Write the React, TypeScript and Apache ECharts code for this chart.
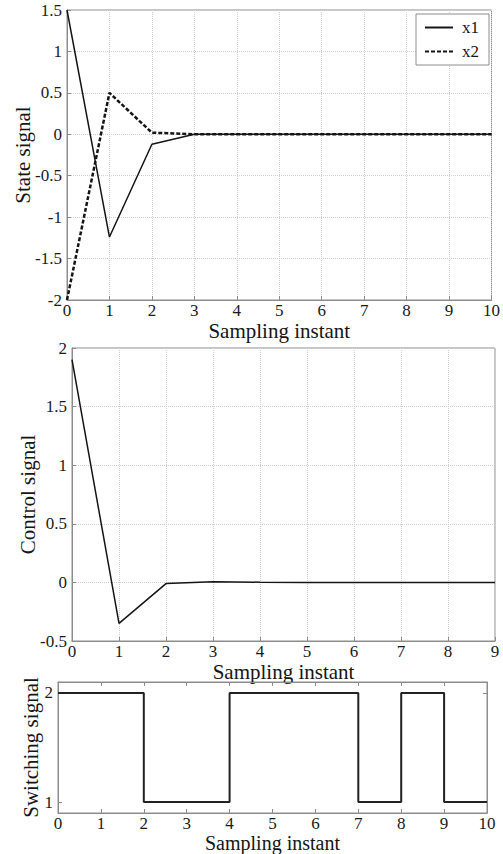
import React, { useEffect, useRef } from "react";
import * as echarts from "echarts";

const stateInstants = [0, 1, 2, 3, 4, 5, 6, 7, 8, 9, 10];
const x1Values = [1.5, -1.24, -0.12, 0, 0, 0, 0, 0, 0, 0, 0];
const x2Values = [-2, 0.5, 0.02, 0, 0, 0, 0, 0, 0, 0, 0];

const controlInstants = [0, 1, 2, 3, 4, 5, 6, 7, 8, 9];
const controlValues = [1.9, -0.35, -0.01, 0.005, 0.002, 0, 0, 0, 0, 0];

const switchInstants = [0, 1, 2, 3, 4, 5, 6, 7, 8, 9, 10];
const switchValues = [2, 2, 1, 1, 2, 2, 2, 1, 2, 1, 1];
const switchTicks = [1, 2];

const xTitle = "Sampling instant";

const FONT = "Liberation Serif";
const FRAME = "#8c8c8c";
const GRIDLINE = "#cfcfcf";
const INK = "#151515";

function pairs(xs: number[], ys: number[]) {
  return xs.map((x, i) => [x, ys[i]]);
}

const tickLabel = { color: "#1a1a1a", fontSize: 17, fontFamily: FONT, fontWeight: "normal" };

function xAxisBase(gridIndex: number, max: number, nameGap: number, grid: boolean, nameSize: number) {
  return {
    type: "value",
    gridIndex,
    min: 0,
    max,
    interval: 1,
    axisLine: { show: true, onZero: false, lineStyle: { color: FRAME, width: 1 } },
    axisTick: { show: true, inside: true, length: 4, lineStyle: { color: FRAME } },
    axisLabel: { ...tickLabel, margin: 2 },
    splitLine: { show: grid, lineStyle: { type: "dotted", color: GRIDLINE, width: 1 } },
    name: xTitle,
    nameLocation: "middle",
    nameGap,
    nameMoveOverlap: false,
    nameTextStyle: { fontSize: nameSize, color: INK, fontFamily: FONT },
  };
}

function yAxisBase(gridIndex: number, name: string, nameGap: number) {
  return {
    type: "value",
    gridIndex,
    axisLine: { show: true, onZero: false, lineStyle: { color: FRAME, width: 1 } },
    axisTick: { show: true, inside: true, length: 4, lineStyle: { color: FRAME } },
    axisLabel: { ...tickLabel, margin: 5 },
    splitLine: { show: true, lineStyle: { type: "dotted", color: GRIDLINE, width: 1 } },
    name,
    nameLocation: "middle",
    nameGap,
    nameMoveOverlap: false,
    nameTextStyle: { fontSize: 21, color: INK, fontFamily: FONT },
  };
}

export default function App() {
  const ref = useRef<HTMLDivElement>(null);

  useEffect(() => {
    if (!ref.current) return;
    const chart = echarts.init(ref.current, undefined, { renderer: "svg" });
    const option: any = {
      animation: false,
      backgroundColor: "#ffffff",
      textStyle: { fontFamily: FONT },
      grid: [
        { left: 67, top: 10, width: 426, height: 290, show: true, borderColor: FRAME, borderWidth: 1 },
        { left: 72, top: 348, width: 423, height: 293, show: true, borderColor: FRAME, borderWidth: 1 },
        { left: 58, top: 682, width: 429, height: 131, show: true, borderColor: FRAME, borderWidth: 1 },
      ],
      xAxis: [
        xAxisBase(0, 10, 20, true, 21),
        xAxisBase(1, 9, 20, true, 21),
        xAxisBase(2, 10, 20, false, 20),
        {
          type: "value",
          gridIndex: 2,
          position: "top",
          min: 0,
          max: 10,
          interval: 1,
          axisLine: { show: true, onZero: false, lineStyle: { color: FRAME } },
          axisTick: { show: true, inside: true, length: 4, lineStyle: { color: FRAME } },
          axisLabel: { show: false },
          splitLine: { show: false },
        },
      ],
      yAxis: [
        { ...yAxisBase(0, "State signal", 34), min: -2, max: 1.5, interval: 0.5 },
        { ...yAxisBase(1, "Control signal", 34), min: -0.5, max: 2, interval: 0.5 },
        {
          ...yAxisBase(2, "Switching signal", 17),
          min: 0.9,
          max: 2.1,
          splitLine: { show: false },
          axisLabel: { ...tickLabel, margin: 5, customValues: switchTicks },
          axisTick: { show: true, inside: true, length: 4, lineStyle: { color: FRAME }, customValues: switchTicks },
        },
        {
          type: "value",
          gridIndex: 2,
          position: "right",
          min: 0.9,
          max: 2.1,
          axisLine: { show: true, onZero: false, lineStyle: { color: FRAME } },
          axisTick: { show: true, inside: true, length: 4, lineStyle: { color: FRAME }, customValues: switchTicks },
          axisLabel: { show: false, customValues: switchTicks },
          splitLine: { show: false },
        },
      ],
      legend: {
        data: ["x1", "x2"],
        orient: "vertical",
        left: 416,
        top: 14,
        padding: [5, 10, 5, 8],
        itemGap: 7,
        itemWidth: 28,
        itemHeight: 14,
        borderColor: FRAME,
        borderWidth: 1,
        backgroundColor: "#ffffff",
        itemStyle: { opacity: 0 },
        textStyle: { fontSize: 17, fontFamily: FONT, color: INK, padding: [0, 0, 0, 4] },
      },
      series: [
        {
          name: "x1",
          type: "line",
          xAxisIndex: 0,
          yAxisIndex: 0,
          data: pairs(stateInstants, x1Values),
          symbol: "none",
          lineStyle: { color: INK, width: 1.5 },
          itemStyle: { color: INK },
          z: 3,
        },
        {
          name: "x2",
          type: "line",
          xAxisIndex: 0,
          yAxisIndex: 0,
          data: pairs(stateInstants, x2Values),
          symbol: "none",
          lineStyle: { color: INK, width: 2.5, type: [4, 2] },
          itemStyle: { color: INK },
          z: 4,
        },
        {
          name: "u",
          type: "line",
          xAxisIndex: 1,
          yAxisIndex: 1,
          data: pairs(controlInstants, controlValues),
          symbol: "none",
          lineStyle: { color: INK, width: 1.5 },
          itemStyle: { color: INK },
        },
        {
          name: "sigma",
          type: "line",
          xAxisIndex: 2,
          yAxisIndex: 2,
          step: "end",
          data: pairs(switchInstants, switchValues),
          symbol: "none",
          lineStyle: { color: "#222", width: 2 },
          itemStyle: { color: "#222" },
        },
      ],
    };
    chart.setOption(option);
    return () => {
      chart.dispose();
    };
  }, []);

  return (
    <div
      ref={ref}
      style={{ position: "fixed", left: 0, top: 0, width: 503, height: 854, background: "#fff" }}
    />
  );
}
